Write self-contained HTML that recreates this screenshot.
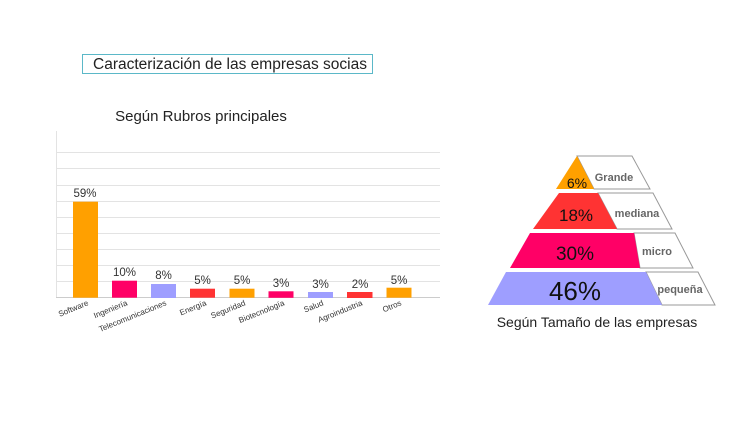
<!DOCTYPE html>
<html><head><meta charset="utf-8"><style>
body{margin:0;background:#fff;width:750px;height:418px;overflow:hidden;font-family:"Liberation Sans",sans-serif}
</style></head><body>
<svg width="750" height="418" xmlns="http://www.w3.org/2000/svg" font-family="Liberation Sans, sans-serif">
<rect x="82.5" y="54.5" width="290" height="19" fill="#fff" stroke="#5bb8c8" stroke-width="1"/>
<text x="230" y="69" font-size="15.5" text-anchor="middle" fill="#222">Caracterización de las empresas socias</text>
<text x="201" y="121" font-size="15" text-anchor="middle" fill="#222">Según Rubros principales</text>
<g stroke="#e3e3e3" stroke-width="1">
<line x1="56" x2="440" y1="152.5" y2="152.5"/><line x1="56" x2="440" y1="168.5" y2="168.5"/>
<line x1="56" x2="440" y1="185.5" y2="185.5"/><line x1="56" x2="440" y1="201.5" y2="201.5"/>
<line x1="56" x2="440" y1="217.5" y2="217.5"/><line x1="56" x2="440" y1="233.5" y2="233.5"/>
<line x1="56" x2="440" y1="249.5" y2="249.5"/><line x1="56" x2="440" y1="265.5" y2="265.5"/>
<line x1="56" x2="440" y1="281.5" y2="281.5"/>
<line x1="56.5" x2="56.5" y1="131" y2="298"/>
</g>
<line x1="56" x2="440" y1="297.5" y2="297.5" stroke="#ccc"/>
<g>
<rect x="73" y="201.7" width="25" height="96" fill="#FFA000"/>
<rect x="112" y="280.7" width="25" height="17" fill="#FF0066"/>
<rect x="151" y="284" width="25" height="14" fill="#9E9EFF"/>
<rect x="190" y="288.7" width="25" height="9" fill="#FF3333"/>
<rect x="229.5" y="288.7" width="25" height="9" fill="#FFA000"/>
<rect x="268.5" y="291.3" width="25" height="6.5" fill="#FF0066"/>
<rect x="308" y="292" width="25" height="6" fill="#9E9EFF"/>
<rect x="347" y="292" width="25.5" height="6" fill="#FF3333"/>
<rect x="386.5" y="287.7" width="25" height="10" fill="#FFA000"/>
</g>
<g font-size="11.5" fill="#333" text-anchor="middle">
<text x="85" y="197">59%</text><text x="124.5" y="276">10%</text><text x="163.5" y="279">8%</text>
<text x="202.5" y="284">5%</text><text x="242" y="284">5%</text><text x="281" y="287">3%</text>
<text x="320.5" y="288">3%</text><text x="360" y="288">2%</text><text x="399" y="284">5%</text>
</g>
<g font-size="8" fill="#333" text-anchor="end">
<text transform="translate(89,305) rotate(-22)">Software</text>
<text transform="translate(128,305) rotate(-22)">Ingeniería</text>
<text transform="translate(167,305) rotate(-22)">Telecomunicaciones</text>
<text transform="translate(207,305) rotate(-22)">Energía</text>
<text transform="translate(246,305) rotate(-22)">Seguridad</text>
<text transform="translate(285,305) rotate(-22)">Biotecnología</text>
<text transform="translate(324,305) rotate(-22)">Salud</text>
<text transform="translate(363,305) rotate(-22)">Agroindustria</text>
<text transform="translate(402,305) rotate(-22)">Otros</text>
</g>
<g fill="#fff" stroke="#999" stroke-width="1">
<polygon points="577,156 632,156 650,189 594,189"/>
<polygon points="598,193 653,193 672,229 617,229"/>
<polygon points="634,233 675,233 693,268 640,268"/>
<polygon points="646,272 698,272 715,305 662,305"/>
</g>
<polygon points="577,156 594,189 556,189" fill="#FFA000"/>
<polygon points="559,193 598,193 617,229 533,229" fill="#FF3333"/>
<polygon points="530,233 634,233 640,268 510,268" fill="#FF0066"/>
<polygon points="506,272 646,272 662,305 488,305" fill="#9E9EFF"/>
<g fill="#111" text-anchor="middle">
<text x="577" y="188" font-size="14">6%</text>
<text x="576" y="221" font-size="17">18%</text>
<text x="575" y="260" font-size="19">30%</text>
<text x="575" y="300" font-size="26">46%</text>
</g>
<g fill="#666" font-size="11" font-weight="bold" text-anchor="middle">
<text x="614" y="181">Grande</text>
<text x="637" y="217">mediana</text>
<text x="657" y="255">micro</text>
<text x="680" y="293">pequeña</text>
</g>
<text x="597" y="327" font-size="14" text-anchor="middle" fill="#222">Según Tamaño de las empresas</text>
</svg>
</body></html>
